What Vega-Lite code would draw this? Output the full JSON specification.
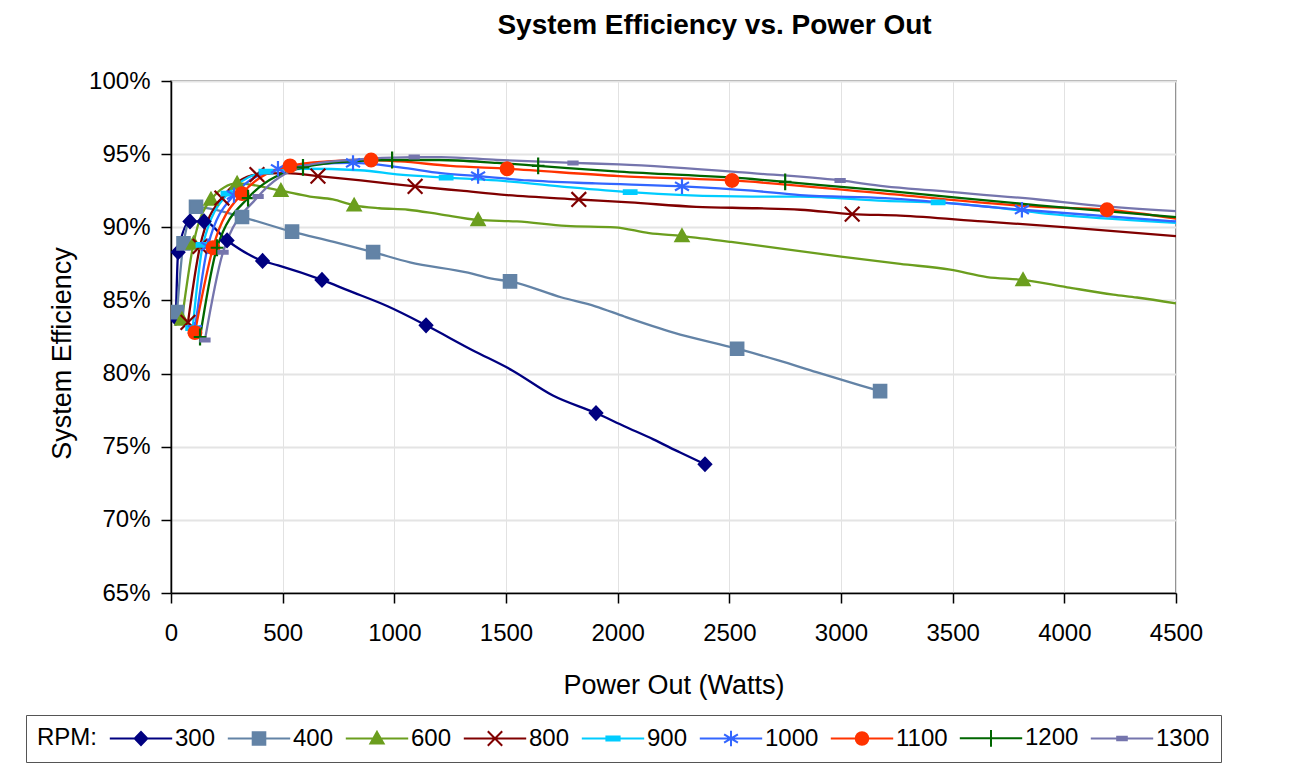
{
  "$schema": "https://vega.github.io/schema/vega-lite/v6.json",
  "description": "System efficiency vs. power out, one curve per RPM",
  "width": 1005,
  "height": 512,
  "autosize": "none",
  "padding": {"left": 171, "top": 81, "right": 114, "bottom": 189},
  "background": "white",
  "title": {
    "text": "System Efficiency vs. Power Out",
    "font": "Liberation Sans",
    "fontSize": 28,
    "fontWeight": "bold",
    "color": "#000",
    "anchor": "middle",
    "frame": "group",
    "baseline": "alphabetic",
    "dx": 41,
    "offset": 7
  },
  "datasets": {
    "curves": [
      {"rpm": "300", "w": 22, "eff": 0.838}, {"rpm": "300", "w": 32, "eff": 0.883}, {"rpm": "300", "w": 85, "eff": 0.904}, {"rpm": "300", "w": 148, "eff": 0.904}, {"rpm": "300", "w": 251, "eff": 0.891}, {"rpm": "300", "w": 410, "eff": 0.877}, {"rpm": "300", "w": 480, "eff": 0.874}, {"rpm": "300", "w": 676, "eff": 0.864}, {"rpm": "300", "w": 790, "eff": 0.857}, {"rpm": "300", "w": 970, "eff": 0.846}, {"rpm": "300", "w": 1142, "eff": 0.833}, {"rpm": "300", "w": 1350, "eff": 0.816}, {"rpm": "300", "w": 1530, "eff": 0.802}, {"rpm": "300", "w": 1710, "eff": 0.785}, {"rpm": "300", "w": 1903, "eff": 0.773}, {"rpm": "300", "w": 2030, "eff": 0.764}, {"rpm": "300", "w": 2160, "eff": 0.755}, {"rpm": "300", "w": 2280, "eff": 0.746}, {"rpm": "300", "w": 2391, "eff": 0.738},
      {"rpm": "400", "w": 27, "eff": 0.842}, {"rpm": "400", "w": 56, "eff": 0.889}, {"rpm": "400", "w": 112, "eff": 0.914}, {"rpm": "400", "w": 318, "eff": 0.907}, {"rpm": "400", "w": 542, "eff": 0.897}, {"rpm": "400", "w": 729, "eff": 0.890}, {"rpm": "400", "w": 905, "eff": 0.883}, {"rpm": "400", "w": 1070, "eff": 0.876}, {"rpm": "400", "w": 1330, "eff": 0.869}, {"rpm": "400", "w": 1430, "eff": 0.865}, {"rpm": "400", "w": 1518, "eff": 0.863}, {"rpm": "400", "w": 1750, "eff": 0.852}, {"rpm": "400", "w": 1900, "eff": 0.846}, {"rpm": "400", "w": 2030, "eff": 0.839}, {"rpm": "400", "w": 2250, "eff": 0.828}, {"rpm": "400", "w": 2535, "eff": 0.817}, {"rpm": "400", "w": 2720, "eff": 0.809}, {"rpm": "400", "w": 2890, "eff": 0.801}, {"rpm": "400", "w": 3086, "eff": 0.792}, {"rpm": "400", "w": 3175, "eff": 0.788},
      {"rpm": "600", "w": 49, "eff": 0.837}, {"rpm": "600", "w": 101, "eff": 0.889}, {"rpm": "600", "w": 179, "eff": 0.919}, {"rpm": "600", "w": 296, "eff": 0.930}, {"rpm": "600", "w": 492, "eff": 0.925}, {"rpm": "600", "w": 622, "eff": 0.921}, {"rpm": "600", "w": 725, "eff": 0.919}, {"rpm": "600", "w": 820, "eff": 0.915}, {"rpm": "600", "w": 932, "eff": 0.913}, {"rpm": "600", "w": 1061, "eff": 0.912}, {"rpm": "600", "w": 1200, "eff": 0.909}, {"rpm": "600", "w": 1375, "eff": 0.905}, {"rpm": "600", "w": 1549, "eff": 0.904}, {"rpm": "600", "w": 1769, "eff": 0.901}, {"rpm": "600", "w": 1988, "eff": 0.900}, {"rpm": "600", "w": 2141, "eff": 0.896}, {"rpm": "600", "w": 2288, "eff": 0.894}, {"rpm": "600", "w": 2508, "eff": 0.890}, {"rpm": "600", "w": 2749, "eff": 0.885}, {"rpm": "600", "w": 3000, "eff": 0.880}, {"rpm": "600", "w": 3265, "eff": 0.875}, {"rpm": "600", "w": 3489, "eff": 0.871}, {"rpm": "600", "w": 3654, "eff": 0.866}, {"rpm": "600", "w": 3815, "eff": 0.864}, {"rpm": "600", "w": 4012, "eff": 0.859}, {"rpm": "600", "w": 4219, "eff": 0.854}, {"rpm": "600", "w": 4325, "eff": 0.852}, {"rpm": "600", "w": 4500, "eff": 0.848},
      {"rpm": "800", "w": 76, "eff": 0.835}, {"rpm": "800", "w": 130, "eff": 0.887}, {"rpm": "800", "w": 228, "eff": 0.920}, {"rpm": "800", "w": 385, "eff": 0.936}, {"rpm": "800", "w": 519, "eff": 0.937}, {"rpm": "800", "w": 658, "eff": 0.935}, {"rpm": "800", "w": 850, "eff": 0.932}, {"rpm": "800", "w": 1093, "eff": 0.928}, {"rpm": "800", "w": 1298, "eff": 0.925}, {"rpm": "800", "w": 1505, "eff": 0.922}, {"rpm": "800", "w": 1826, "eff": 0.919}, {"rpm": "800", "w": 2055, "eff": 0.917}, {"rpm": "800", "w": 2351, "eff": 0.914}, {"rpm": "800", "w": 2624, "eff": 0.913}, {"rpm": "800", "w": 2817, "eff": 0.912}, {"rpm": "800", "w": 3050, "eff": 0.909}, {"rpm": "800", "w": 3265, "eff": 0.908}, {"rpm": "800", "w": 3636, "eff": 0.904}, {"rpm": "800", "w": 4012, "eff": 0.900}, {"rpm": "800", "w": 4500, "eff": 0.894},
      {"rpm": "900", "w": 97, "eff": 0.831}, {"rpm": "900", "w": 143, "eff": 0.888}, {"rpm": "900", "w": 255, "eff": 0.923}, {"rpm": "900", "w": 425, "eff": 0.938}, {"rpm": "900", "w": 591, "eff": 0.940}, {"rpm": "900", "w": 846, "eff": 0.939}, {"rpm": "900", "w": 1025, "eff": 0.936}, {"rpm": "900", "w": 1232, "eff": 0.934}, {"rpm": "900", "w": 1460, "eff": 0.932}, {"rpm": "900", "w": 1740, "eff": 0.928}, {"rpm": "900", "w": 2056, "eff": 0.924}, {"rpm": "900", "w": 2300, "eff": 0.922}, {"rpm": "900", "w": 2602, "eff": 0.921}, {"rpm": "900", "w": 2817, "eff": 0.921}, {"rpm": "900", "w": 3197, "eff": 0.918}, {"rpm": "900", "w": 3435, "eff": 0.917}, {"rpm": "900", "w": 4012, "eff": 0.908}, {"rpm": "900", "w": 4500, "eff": 0.903},
      {"rpm": "1000", "w": 107, "eff": 0.830}, {"rpm": "1000", "w": 165, "eff": 0.887}, {"rpm": "1000", "w": 282, "eff": 0.922}, {"rpm": "1000", "w": 479, "eff": 0.940}, {"rpm": "1000", "w": 650, "eff": 0.943}, {"rpm": "1000", "w": 815, "eff": 0.944}, {"rpm": "1000", "w": 1025, "eff": 0.941}, {"rpm": "1000", "w": 1209, "eff": 0.937}, {"rpm": "1000", "w": 1375, "eff": 0.935}, {"rpm": "1000", "w": 1600, "eff": 0.932}, {"rpm": "1000", "w": 1900, "eff": 0.930}, {"rpm": "1000", "w": 2288, "eff": 0.928}, {"rpm": "1000", "w": 2602, "eff": 0.925}, {"rpm": "1000", "w": 2817, "eff": 0.922}, {"rpm": "1000", "w": 3197, "eff": 0.920}, {"rpm": "1000", "w": 3810, "eff": 0.912}, {"rpm": "1000", "w": 4500, "eff": 0.904},
      {"rpm": "1100", "w": 107, "eff": 0.828}, {"rpm": "1100", "w": 188, "eff": 0.886}, {"rpm": "1100", "w": 318, "eff": 0.923}, {"rpm": "1100", "w": 533, "eff": 0.942}, {"rpm": "1100", "w": 700, "eff": 0.945}, {"rpm": "1100", "w": 896, "eff": 0.946}, {"rpm": "1100", "w": 1025, "eff": 0.945}, {"rpm": "1100", "w": 1250, "eff": 0.942}, {"rpm": "1100", "w": 1505, "eff": 0.940}, {"rpm": "1100", "w": 2006, "eff": 0.935}, {"rpm": "1100", "w": 2512, "eff": 0.932}, {"rpm": "1100", "w": 3197, "eff": 0.923}, {"rpm": "1100", "w": 3883, "eff": 0.914}, {"rpm": "1100", "w": 4191, "eff": 0.912}, {"rpm": "1100", "w": 4500, "eff": 0.906},
      {"rpm": "1200", "w": 130, "eff": 0.825}, {"rpm": "1200", "w": 206, "eff": 0.886}, {"rpm": "1200", "w": 345, "eff": 0.920}, {"rpm": "1200", "w": 591, "eff": 0.941}, {"rpm": "1200", "w": 800, "eff": 0.945}, {"rpm": "1200", "w": 990, "eff": 0.946}, {"rpm": "1200", "w": 1200, "eff": 0.946}, {"rpm": "1200", "w": 1460, "eff": 0.944}, {"rpm": "1200", "w": 1644, "eff": 0.942}, {"rpm": "1200", "w": 2006, "eff": 0.938}, {"rpm": "1200", "w": 2602, "eff": 0.933}, {"rpm": "1200", "w": 2750, "eff": 0.931}, {"rpm": "1200", "w": 3197, "eff": 0.925}, {"rpm": "1200", "w": 3883, "eff": 0.915}, {"rpm": "1200", "w": 4500, "eff": 0.907},
      {"rpm": "1300", "w": 152, "eff": 0.823}, {"rpm": "1300", "w": 233, "eff": 0.883}, {"rpm": "1300", "w": 390, "eff": 0.921}, {"rpm": "1300", "w": 600, "eff": 0.942}, {"rpm": "1300", "w": 800, "eff": 0.946}, {"rpm": "1300", "w": 1089, "eff": 0.948}, {"rpm": "1300", "w": 1209, "eff": 0.948}, {"rpm": "1300", "w": 1460, "eff": 0.946}, {"rpm": "1300", "w": 1800, "eff": 0.944}, {"rpm": "1300", "w": 2006, "eff": 0.943}, {"rpm": "1300", "w": 2602, "eff": 0.937}, {"rpm": "1300", "w": 2996, "eff": 0.932}, {"rpm": "1300", "w": 3197, "eff": 0.928}, {"rpm": "1300", "w": 3426, "eff": 0.925}, {"rpm": "1300", "w": 3883, "eff": 0.919}, {"rpm": "1300", "w": 4134, "eff": 0.915}, {"rpm": "1300", "w": 4500, "eff": 0.911}
    ],
    "markers": [
      {"rpm": "300", "w": 22, "eff": 0.838}, {"rpm": "300", "w": 32, "eff": 0.883}, {"rpm": "300", "w": 85, "eff": 0.904}, {"rpm": "300", "w": 148, "eff": 0.904}, {"rpm": "300", "w": 251, "eff": 0.891}, {"rpm": "300", "w": 410, "eff": 0.877}, {"rpm": "300", "w": 676, "eff": 0.864}, {"rpm": "300", "w": 1142, "eff": 0.833}, {"rpm": "300", "w": 1903, "eff": 0.773}, {"rpm": "300", "w": 2391, "eff": 0.738},
      {"rpm": "400", "w": 27, "eff": 0.842}, {"rpm": "400", "w": 56, "eff": 0.889}, {"rpm": "400", "w": 112, "eff": 0.914}, {"rpm": "400", "w": 318, "eff": 0.907}, {"rpm": "400", "w": 542, "eff": 0.897}, {"rpm": "400", "w": 905, "eff": 0.883}, {"rpm": "400", "w": 1518, "eff": 0.863}, {"rpm": "400", "w": 2535, "eff": 0.817}, {"rpm": "400", "w": 3175, "eff": 0.788},
      {"rpm": "600", "w": 49, "eff": 0.837}, {"rpm": "600", "w": 101, "eff": 0.889}, {"rpm": "600", "w": 179, "eff": 0.919}, {"rpm": "600", "w": 296, "eff": 0.930}, {"rpm": "600", "w": 492, "eff": 0.925}, {"rpm": "600", "w": 820, "eff": 0.915}, {"rpm": "600", "w": 1375, "eff": 0.905}, {"rpm": "600", "w": 2288, "eff": 0.894}, {"rpm": "600", "w": 3815, "eff": 0.864},
      {"rpm": "800", "w": 76, "eff": 0.835}, {"rpm": "800", "w": 130, "eff": 0.887}, {"rpm": "800", "w": 228, "eff": 0.920}, {"rpm": "800", "w": 385, "eff": 0.936}, {"rpm": "800", "w": 658, "eff": 0.935}, {"rpm": "800", "w": 1093, "eff": 0.928}, {"rpm": "800", "w": 1826, "eff": 0.919}, {"rpm": "800", "w": 3050, "eff": 0.909},
      {"rpm": "900", "w": 97, "eff": 0.831}, {"rpm": "900", "w": 143, "eff": 0.888}, {"rpm": "900", "w": 255, "eff": 0.923}, {"rpm": "900", "w": 425, "eff": 0.938}, {"rpm": "900", "w": 1232, "eff": 0.934}, {"rpm": "900", "w": 2056, "eff": 0.924}, {"rpm": "900", "w": 3435, "eff": 0.917},
      {"rpm": "1000", "w": 107, "eff": 0.830}, {"rpm": "1000", "w": 165, "eff": 0.887}, {"rpm": "1000", "w": 282, "eff": 0.922}, {"rpm": "1000", "w": 479, "eff": 0.940}, {"rpm": "1000", "w": 815, "eff": 0.944}, {"rpm": "1000", "w": 1375, "eff": 0.935}, {"rpm": "1000", "w": 2288, "eff": 0.928}, {"rpm": "1000", "w": 3810, "eff": 0.912},
      {"rpm": "1100", "w": 107, "eff": 0.828}, {"rpm": "1100", "w": 188, "eff": 0.886}, {"rpm": "1100", "w": 318, "eff": 0.923}, {"rpm": "1100", "w": 533, "eff": 0.942}, {"rpm": "1100", "w": 896, "eff": 0.946}, {"rpm": "1100", "w": 1505, "eff": 0.940}, {"rpm": "1100", "w": 2512, "eff": 0.932}, {"rpm": "1100", "w": 4191, "eff": 0.912},
      {"rpm": "1200", "w": 130, "eff": 0.825}, {"rpm": "1200", "w": 206, "eff": 0.886}, {"rpm": "1200", "w": 345, "eff": 0.920}, {"rpm": "1200", "w": 591, "eff": 0.941}, {"rpm": "1200", "w": 990, "eff": 0.946}, {"rpm": "1200", "w": 1644, "eff": 0.942}, {"rpm": "1200", "w": 2750, "eff": 0.931},
      {"rpm": "1300", "w": 152, "eff": 0.823}, {"rpm": "1300", "w": 233, "eff": 0.883}, {"rpm": "1300", "w": 390, "eff": 0.921}, {"rpm": "1300", "w": 1089, "eff": 0.948}, {"rpm": "1300", "w": 1800, "eff": 0.944}, {"rpm": "1300", "w": 2996, "eff": 0.932}
    ]
  },
  "encoding": {
    "x": {
      "field": "w",
      "type": "quantitative",
      "scale": {"domain": [0, 4500], "nice": false},
      "axis": {
        "title": "Power Out (Watts)",
        "values": [0, 500, 1000, 1500, 2000, 2500, 3000, 3500, 4000, 4500],
        "format": "d",
        "labelFontSize": 24,
        "labelPadding": 18,
        "labelFlush": false,
        "titleFontSize": 27,
        "titleFontWeight": "normal",
        "titlePadding": 27,
        "tickSize": 10,
        "gridColor": "#e2e2e2",
        "gridWidth": 1
      }
    },
    "y": {
      "field": "eff",
      "type": "quantitative",
      "scale": {"domain": [0.65, 1.0], "nice": false, "zero": false},
      "axis": {
        "title": "System Efficiency",
        "values": [0.65, 0.7, 0.75, 0.8, 0.85, 0.9, 0.95, 1.0],
        "format": ".0%",
        "labelFontSize": 24,
        "labelPadding": 11,
        "titleFontSize": 27,
        "titleFontWeight": "normal",
        "titlePadding": 12,
        "titleY": 272,
        "tickSize": 10,
        "gridColor": "#e4e4e4",
        "gridWidth": 2
      }
    }
  },
  "layer": [
    {
      "data": {"name": "curves"},
      "mark": {"type": "line", "strokeWidth": 2.3, "interpolate": "monotone", "clip": true},
      "encoding": {
        "color": {
          "field": "rpm",
          "type": "nominal",
          "scale": {
            "domain": ["300", "400", "600", "800", "900", "1000", "1100", "1200", "1300"],
            "range": ["#000080", "#6383A6", "#6B9E1E", "#800000", "#00CCFF", "#3366FF", "#FF3300", "#006600", "#7575AD"]
          },
          "legend": {
            "orient": "none",
            "legendX": -145,
            "legendY": 634,
            "direction": "horizontal",
            "columns": 9,
            "title": "RPM:",
            "titleOrient": "left",
            "titleFontSize": 24,
            "titleFontWeight": "normal",
            "titleColor": "#000",
            "titlePadding": 14,
            "labelFontSize": 24,
            "labelColor": "#000",
            "labelOffset": 22,
            "symbolSize": 144,
            "symbolStrokeWidth": 2,
            "symbolOffset": 18,
            "columnPadding": 7,
            "padding": 11,
            "strokeColor": "#555",
            "fillColor": "white",
            "encode": {
              "symbols": {
                "update": {
                  "shape": {"signal": "datum.value === '300' ? 'M-5.2,0L5.2,0M0,-1.1L1.05,0L0,1.1L-1.05,0Z' : datum.value === '400' ? 'M-5.2,0L5.2,0M-1.05,-1.05L1.05,-1.05L1.05,1.05L-1.05,1.05Z' : datum.value === '600' ? 'M-5.2,0L5.2,0M0,-1.1L1.1,0.85L-1.1,0.85Z' : datum.value === '800' ? 'M-5.2,0L5.2,0M-1.2,-1.2L1.2,1.2M-1.2,1.2L1.2,-1.2' : datum.value === '900' ? 'M-5.2,0L5.2,0M-1.1,-0.35L1.1,-0.35L1.1,0.35L-1.1,0.35Z' : datum.value === '1000' ? 'M-5.2,0L5.2,0M0,-1.3L0,1.3M-1.15,-0.7L1.15,0.7M-1.15,0.7L1.15,-0.7' : datum.value === '1100' ? 'M-5.2,0L5.2,0M1.05,0L0.97,0.4L0.74,0.74L0.4,0.97L0,1.05L-0.4,0.97L-0.74,0.74L-0.97,0.4L-1.05,0L-0.97,-0.4L-0.74,-0.74L-0.4,-0.97L0,-1.05L0.4,-0.97L0.74,-0.74L0.97,-0.4Z' : datum.value === '1200' ? 'M-5.2,0L5.2,0M0,-1.4L0,1.4' : 'M-5.2,0L5.2,0M-0.8,-0.3L0.8,-0.3L0.8,0.3L-0.8,0.3Z'"},
                  "fill": {"scale": "color", "field": "value"},
                  "stroke": {"scale": "color", "field": "value"},
                  "strokeWidth": {"value": 2},
                  "size": {"value": 144},
                  "opacity": {"value": 1}
                }
              }
            }
          }
        }
      }
    },
    {
      "data": {"name": "markers"},
      "transform": [{"filter": {"field": "rpm", "equal": "300"}}],
      "mark": {"type": "point", "shape": "M0,-0.95L0.9,0L0,0.95L-0.9,0Z", "filled": true, "fill": "#000080", "stroke": "#000080", "opacity": 1, "size": 196, "strokeWidth": 2, "clip": true}
    },
    {
      "data": {"name": "markers"},
      "transform": [{"filter": {"field": "rpm", "equal": "400"}}],
      "mark": {"type": "point", "shape": "M-0.9,-0.9L0.9,-0.9L0.9,0.9L-0.9,0.9Z", "filled": true, "fill": "#6383A6", "stroke": "#6383A6", "opacity": 1, "size": 196, "strokeWidth": 2, "clip": true}
    },
    {
      "data": {"name": "markers"},
      "transform": [{"filter": {"field": "rpm", "equal": "600"}}],
      "mark": {"type": "point", "shape": "M0,-0.95L0.95,0.75L-0.95,0.75Z", "filled": true, "fill": "#6B9E1E", "stroke": "#6B9E1E", "opacity": 1, "size": 196, "strokeWidth": 2, "clip": true}
    },
    {
      "data": {"name": "markers"},
      "transform": [{"filter": {"field": "rpm", "equal": "800"}}],
      "mark": {"type": "point", "shape": "M-1.05,-1.05L1.05,1.05M-1.05,1.05L1.05,-1.05", "filled": true, "fill": "#800000", "stroke": "#800000", "opacity": 1, "size": 196, "strokeWidth": 2.2, "clip": true}
    },
    {
      "data": {"name": "markers"},
      "transform": [{"filter": {"field": "rpm", "equal": "900"}}],
      "mark": {"type": "point", "shape": "M-0.95,-0.3L0.95,-0.3L0.95,0.3L-0.95,0.3Z", "filled": true, "fill": "#00CCFF", "stroke": "#00CCFF", "opacity": 1, "size": 196, "strokeWidth": 1.5, "clip": true}
    },
    {
      "data": {"name": "markers"},
      "transform": [{"filter": {"field": "rpm", "equal": "1000"}}],
      "mark": {"type": "point", "shape": "M0,-1.1L0,1.1M-1,-0.6L1,0.6M-1,0.6L1,-0.6", "filled": true, "fill": "#3366FF", "stroke": "#3366FF", "opacity": 1, "size": 196, "strokeWidth": 2.2, "clip": true}
    },
    {
      "data": {"name": "markers"},
      "transform": [{"filter": {"field": "rpm", "equal": "1100"}}],
      "mark": {"type": "point", "shape": "M0.92,0L0.85,0.352L0.65,0.65L0.352,0.85L0,0.92L-0.352,0.85L-0.65,0.65L-0.85,0.352L-0.92,0L-0.85,-0.352L-0.65,-0.65L-0.352,-0.85L0,-0.92L0.352,-0.85L0.65,-0.65L0.85,-0.352Z", "filled": true, "fill": "#FF3300", "stroke": "#FF3300", "opacity": 1, "size": 196, "strokeWidth": 2, "clip": true}
    },
    {
      "data": {"name": "markers"},
      "transform": [{"filter": {"field": "rpm", "equal": "1200"}}],
      "mark": {"type": "point", "shape": "M-0.9,0L0.9,0M0,-1.2L0,1.2", "filled": true, "fill": "#006600", "stroke": "#006600", "opacity": 1, "size": 196, "strokeWidth": 2.2, "clip": true}
    },
    {
      "data": {"name": "markers"},
      "transform": [{"filter": {"field": "rpm", "equal": "1300"}}],
      "mark": {"type": "point", "shape": "M-0.7,-0.25L0.7,-0.25L0.7,0.25L-0.7,0.25Z", "filled": true, "fill": "#7575AD", "stroke": "#7575AD", "opacity": 1, "size": 196, "strokeWidth": 1.5, "clip": true}
    }
  ],
  "config": {
    "font": "Liberation Sans",
    "view": {"stroke": "#707070", "strokeWidth": 1.5},
    "axis": {
      "labelColor": "#000",
      "titleColor": "#000",
      "domainColor": "#000",
      "domainWidth": 1.5,
      "tickColor": "#000",
      "tickWidth": 1.5
    }
  }
}
